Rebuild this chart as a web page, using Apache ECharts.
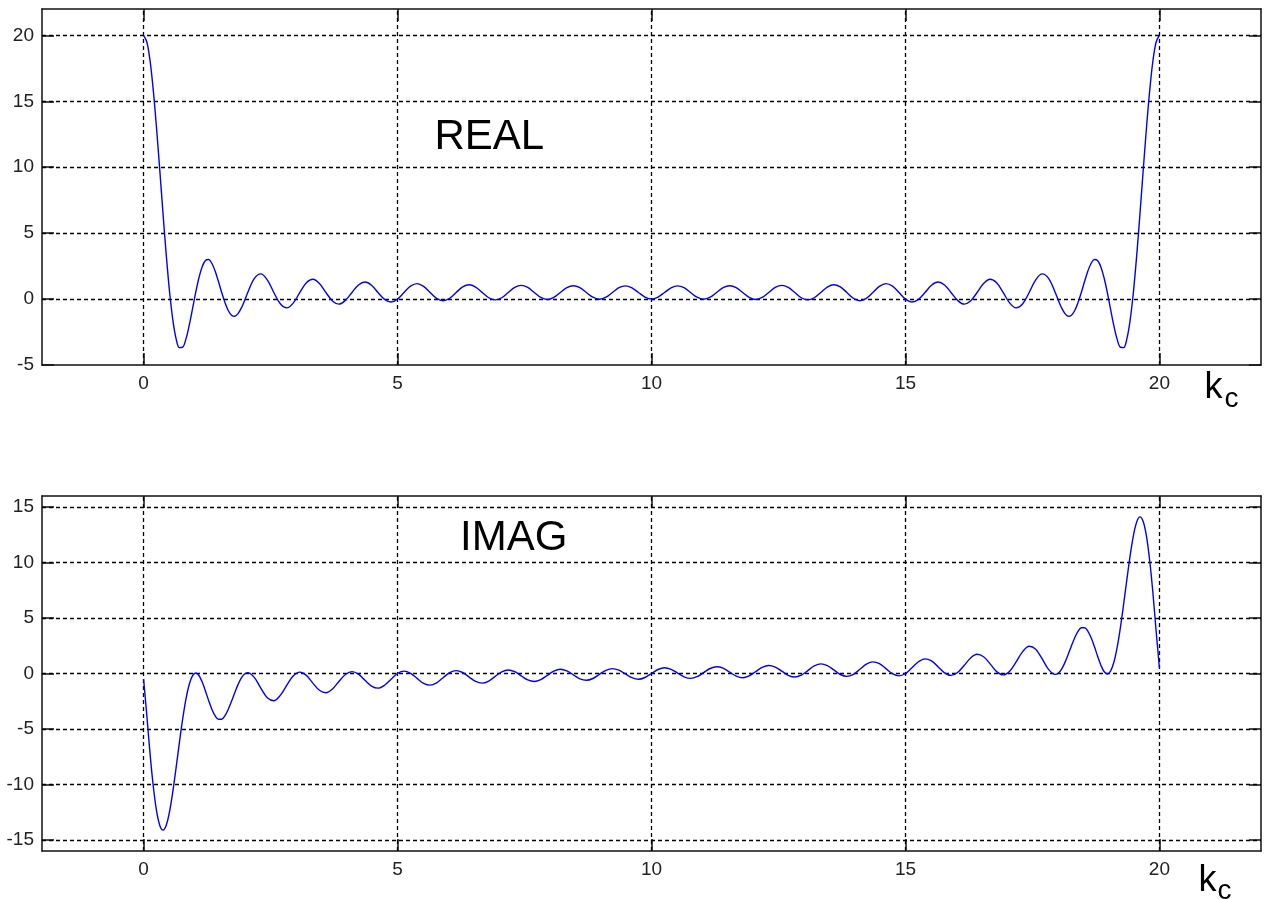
<!DOCTYPE html>
<html>
<head>
<meta charset="utf-8">
<script src="https://cdn.jsdelivr.net/npm/echarts@6.0.0/dist/echarts.min.js"></script>
<style>
html,body{margin:0;padding:0;background:#fff;}
#chart{width:1267px;height:899px;}
</style>
</head>
<body>
<div id="chart"></div>
<script>
// sample positions k_c (shared by both panels)
var kc = [0,0.064,0.128,0.192,0.256,0.321,0.385,0.449,0.513,0.577,0.641,0.705,0.769,0.833,0.897,0.962,
1.026,1.090,1.154,1.218,1.282,1.346,1.410,1.474,1.538,1.603,1.667,1.731,1.795,1.859,1.923,1.987,
2.051,2.179,2.308,2.436,2.564,2.692,2.821,2.949,3.077,3.205,3.333,3.462,3.590,3.718,3.846,3.974,
4.103,4.231,4.359,4.487,4.615,4.744,4.872,5.000,5.128,5.256,5.385,5.513,5.641,5.769,5.897,
6.026,6.154,6.282,6.410,6.538,6.667,6.795,6.923,7.051,7.179,7.308,7.436,7.564,7.692,7.821,7.949,
8.077,8.205,8.333,8.462,8.590,8.718,8.846,8.974,9.103,9.231,9.359,9.487,9.615,9.744,9.872,10.000,
10.128,10.256,10.385,10.513,10.641,10.769,10.897,11.026,11.154,11.282,11.410,11.538,11.667,11.795,11.923,
12.051,12.179,12.308,12.436,12.564,12.692,12.821,12.949,13.077,13.205,13.333,13.462,13.590,13.718,13.846,13.974,
14.103,14.231,14.359,14.487,14.615,14.744,14.872,15.000,15.128,15.256,15.385,15.513,15.641,15.769,15.897,
16.026,16.154,16.282,16.410,16.538,16.667,16.795,16.923,17.051,17.179,17.308,17.436,17.564,17.692,17.821,
17.949,18.013,18.077,18.141,18.205,18.269,18.333,18.397,18.462,18.526,18.590,18.654,18.718,18.782,18.846,18.910,
18.974,19.038,19.103,19.167,19.231,19.295,19.359,19.423,19.487,19.551,19.615,19.679,19.744,19.808,19.872,19.936,20.000];

// REAL panel values
var realVals = [20,19.50,18.06,15.79,12.92,9.68,6.36,3.22,0.5,-1.61,-3.02,-3.68,-3.65,-3.04,-2.02,-0.77,
0.5,1.62,2.46,2.93,3.00,2.70,2.11,1.33,0.5,-0.27,-0.87,-1.22,-1.30,-1.10,-0.69,-0.12,
0.5,1.55,1.91,1.45,0.5,-0.36,-0.67,-0.29,0.5,1.23,1.50,1.18,0.5,-0.14,-0.38,-0.10,
0.5,1.07,1.29,1.05,0.5,-0.02,-0.22,0.00,0.5,0.98,1.17,0.96,0.5,0.05,-0.13,0.06,
0.5,0.92,1.09,0.91,0.5,0.10,-0.06,0.10,0.5,0.89,1.04,0.88,0.5,0.12,-0.03,0.13,
0.5,0.87,1.01,0.86,0.5,0.14,-0.01,0.14,0.5,0.86,1.00,0.85,0.5,0.15,0.00,
0.15,0.5,0.85,1.00,0.86,0.5,0.14,-0.01,0.14,0.5,0.86,1.01,0.87,0.5,0.13,-0.03,0.12,
0.5,0.88,1.04,0.89,0.5,0.10,-0.06,0.10,0.5,0.91,1.09,0.92,0.5,0.06,-0.13,0.05,
0.5,0.96,1.17,0.98,0.5,0.00,-0.22,-0.02,0.5,1.05,1.29,1.07,0.5,-0.10,-0.38,-0.14,
0.5,1.18,1.50,1.23,0.5,-0.29,-0.67,-0.36,0.5,1.45,1.91,1.55,
0.5,-0.12,-0.69,-1.10,-1.30,-1.22,-0.87,-0.27,0.5,1.33,2.11,2.70,3.00,2.93,2.46,1.62,
0.5,-0.77,-2.02,-3.04,-3.65,-3.68,-3.02,-1.61,0.5,3.22,6.36,9.68,12.92,15.79,18.06,19.50,20];

// IMAG panel values
var imagVals = [-0.5,-3.78,-7.27,-10.21,-12.41,-13.72,-14.12,-13.64,-12.41,-10.61,-8.47,-6.23,-4.12,-2.33,-1.01,-0.22,
0.04,-0.18,-0.77,-1.58,-2.45,-3.24,-3.83,-4.13,-4.12,-3.80,-3.23,-2.51,-1.73,-1.00,-0.42,-0.05,
0.08,-0.35,-1.32,-2.19,-2.45,-1.97,-1.05,-0.21,
0.12,-0.17,-0.87,-1.51,-1.73,-1.40,-0.72,-0.09,
0.17,-0.06,-0.61,-1.13,-1.32,-1.06,-0.52,0.00,
0.21,0.02,-0.44,-0.89,-1.05,-0.84,-0.38,0.08,
0.26,0.09,-0.32,-0.72,-0.87,-0.68,-0.26,0.15,
0.32,0.16,-0.21,-0.58,-0.72,-0.55,-0.17,0.21,
0.38,0.23,-0.12,-0.48,-0.61,-0.45,-0.08,0.29,
0.44,0.30,-0.04,-0.38,-0.52,-0.36,0.00,
0.36,0.52,0.38,0.04,-0.30,-0.44,-0.29,0.08,
0.45,0.61,0.48,0.12,-0.23,-0.38,-0.21,0.17,
0.55,0.72,0.58,0.21,-0.16,-0.32,-0.15,0.26,
0.68,0.87,0.72,0.32,-0.09,-0.26,-0.08,0.38,
0.84,1.05,0.89,0.44,-0.02,-0.21,0.00,0.52,
1.06,1.32,1.13,0.61,0.06,-0.17,0.09,0.72,
1.40,1.73,1.51,0.87,0.17,-0.12,0.21,1.05,
1.97,2.45,2.19,1.32,0.35,
-0.08,0.05,0.42,1.00,1.73,2.51,3.23,3.80,4.12,4.13,3.83,3.24,2.45,1.58,0.77,0.18,
-0.04,0.22,1.01,2.33,4.12,6.23,8.47,10.61,12.41,13.64,14.12,13.72,12.41,10.21,7.27,3.78,0.5];

var xTicks = [0,5,10,15,20];
var yTicksReal = [-5,0,5,10,15,20];
var yTicksImag = [-15,-10,-5,0,5,10,15];
var xRange = [-2,22];
var yRangeReal = [-5,22];
var yRangeImag = [-16,16];

var FONT = '"Liberation Sans", Arial, sans-serif';
var BOX = '#111';

function xAxis(grid, pos, showLabel) {
  return {
    type: 'value', gridIndex: grid, position: pos, min: xRange[0], max: xRange[1],
    axisLine: {show: true, onZero: false, lineStyle: {color: BOX, width: 1.5}},
    axisTick: {show: true, inside: true, length: 12, customValues: xTicks, lineStyle: {color: BOX, width: 1.5}},
    axisLabel: {show: showLabel, customValues: xTicks, margin: 9, fontSize: 19, fontFamily: FONT, color: '#222'},
    splitLine: {show: false}
  };
}
function yAxis(grid, pos, range, ticks, showLabel) {
  return {
    type: 'value', gridIndex: grid, position: pos, min: range[0], max: range[1],
    axisLine: {show: true, onZero: false, lineStyle: {color: BOX, width: 1.5}},
    axisTick: {show: true, inside: true, length: 12, customValues: ticks, lineStyle: {color: BOX, width: 1.5}},
    axisLabel: {show: showLabel, customValues: ticks, margin: 8, fontSize: 19, fontFamily: FONT, color: '#222'},
    splitLine: {show: false}
  };
}
function gridLines(yTicks, yRange) {
  var d = [];
  xTicks.forEach(function (v) { if (v > xRange[0] && v < xRange[1]) d.push({xAxis: v}); });
  yTicks.forEach(function (v) { if (v > yRange[0] && v < yRange[1]) d.push({yAxis: v}); });
  return {
    silent: true, symbol: ['none', 'none'], animation: false, z: 1,
    label: {show: false},
    lineStyle: {color: '#000', width: 1.3, type: [4, 3]},
    emphasis: {disabled: true},
    data: d
  };
}

var chart = echarts.init(document.getElementById('chart'), null, {renderer: 'canvas'});
chart.setOption({
  animation: false,
  backgroundColor: '#fff',
  grid: [
    {left: 42, top: 9, width: 1219, height: 356},
    {left: 42, top: 496, width: 1219, height: 355}
  ],
  xAxis: [xAxis(0, 'bottom', true), xAxis(0, 'top', false), xAxis(1, 'bottom', true), xAxis(1, 'top', false)],
  yAxis: [
    yAxis(0, 'left', yRangeReal, yTicksReal, true), yAxis(0, 'right', yRangeReal, yTicksReal, false),
    yAxis(1, 'left', yRangeImag, yTicksImag, true), yAxis(1, 'right', yRangeImag, yTicksImag, false)
  ],
  series: [
    {
      type: 'line', xAxisIndex: 0, yAxisIndex: 0, z: 3,
      data: kc.map(function (k, i) { return [k, realVals[i]]; }),
      showSymbol: false, smooth: 0.35, lineStyle: {color: '#0000ff', width: 1.4},
      markLine: gridLines(yTicksReal, yRangeReal)
    },
    {
      type: 'line', xAxisIndex: 2, yAxisIndex: 2, z: 3,
      data: kc.map(function (k, i) { return [k, imagVals[i]]; }),
      showSymbol: false, smooth: 0.35, lineStyle: {color: '#0000ff', width: 1.4},
      markLine: gridLines(yTicksImag, yRangeImag)
    }
  ],
  graphic: [
    {type: 'text', x: 434.5, y: 137, style: {text: 'REAL', font: '42px ' + FONT, fill: '#000', align: 'left', verticalAlign: 'middle'}},
    {type: 'text', x: 460, y: 538.5, style: {text: 'IMAG', font: '42px ' + FONT, fill: '#000', align: 'left', verticalAlign: 'middle'}},
    {type: 'text', x: 1204.5, y: 388.5, style: {text: 'k', font: '36px ' + FONT, fill: '#000', align: 'left', verticalAlign: 'middle'}},
    {type: 'text', x: 1224.5, y: 398.8, style: {text: 'c', font: '28px ' + FONT, fill: '#000', align: 'left', verticalAlign: 'middle'}},
    {type: 'text', x: 1198.5, y: 881, style: {text: 'k', font: '36px ' + FONT, fill: '#000', align: 'left', verticalAlign: 'middle'}},
    {type: 'text', x: 1217.5, y: 891.5, style: {text: 'c', font: '28px ' + FONT, fill: '#000', align: 'left', verticalAlign: 'middle'}}
  ]
});
</script>
</body>
</html>
